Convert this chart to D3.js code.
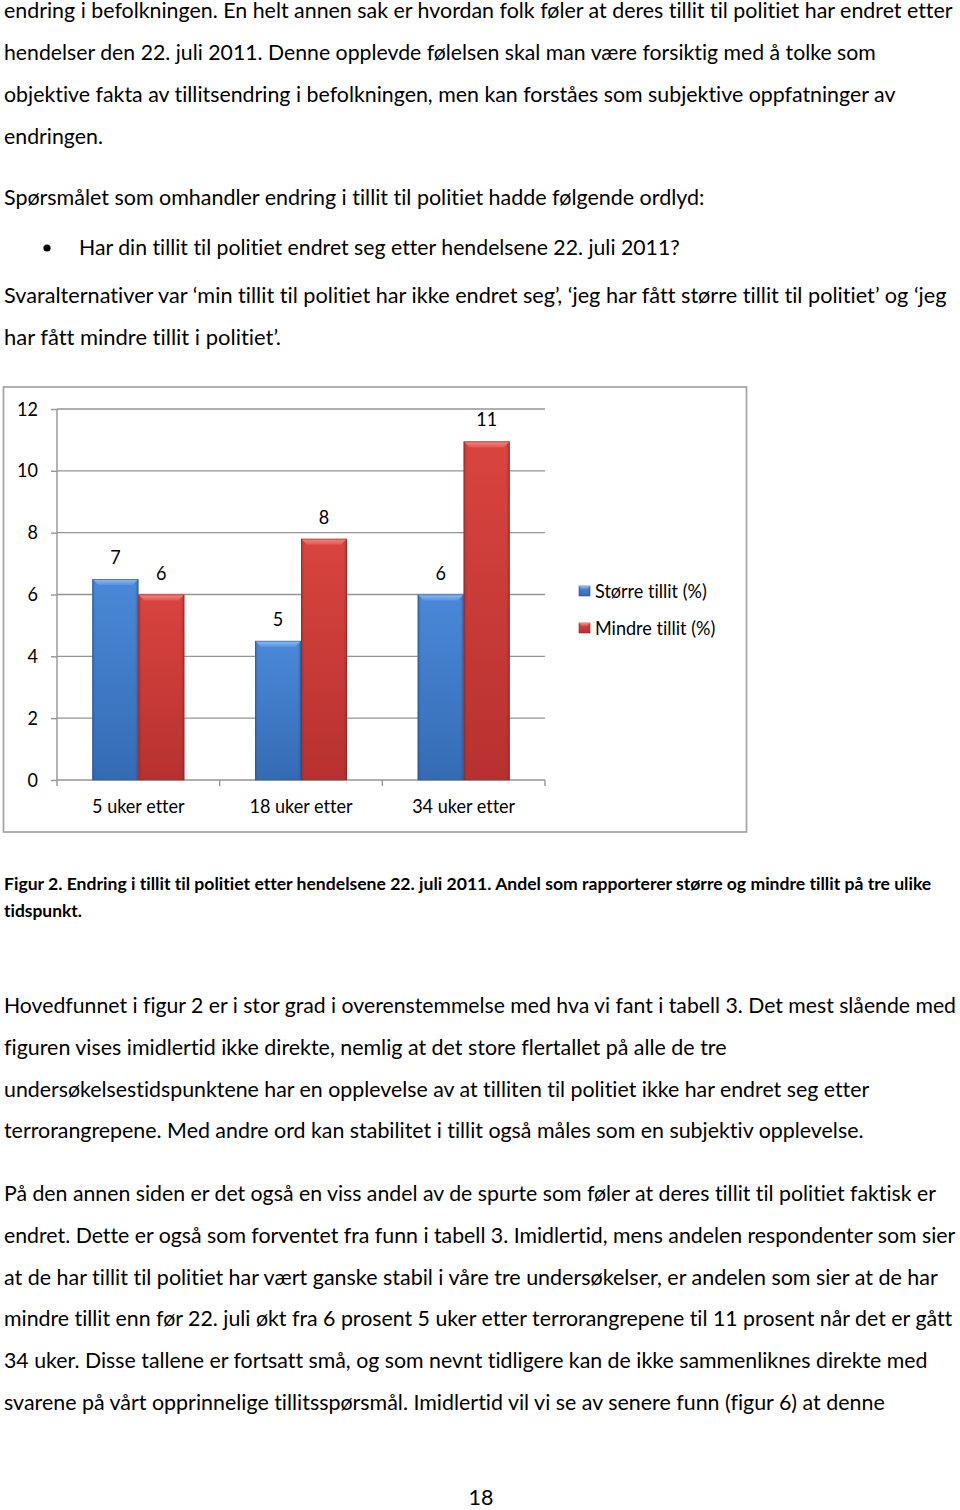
<!DOCTYPE html>
<html><head><meta charset="utf-8">
<script src="https://cdn.jsdelivr.net/npm/d3@7"></script>
<style>html,body{margin:0;padding:0;background:#fff} svg{display:block} text{font-variant-ligatures:none;font-feature-settings:"liga" 0,"clig" 0,"dlig" 0}</style>
</head><body>
<script>
// ---------- DATA ----------
const categories = ["5 uker etter", "18 uker etter", "34 uker etter"];
const seriesNames = ["Større tillit (%)", "Mindre tillit (%)"];
const storreValues = [6.5, 4.5, 6.0];
const mindreValues = [6.0, 7.8, 10.95];
const yTicks = [0, 2, 4, 6, 8, 10, 12];

// ---------- TEXT ----------
const introLines = [
  "endring i befolkningen. En helt annen sak er hvordan folk føler at deres tillit til politiet har endret etter",
  "hendelser den 22. juli 2011. Denne opplevde følelsen skal man være forsiktig med å tolke som",
  "objektive fakta av tillitsendring i befolkningen, men kan forståes som subjektive oppfatninger av",
  "endringen."
];
const questionLine = "Spørsmålet som omhandler endring i tillit til politiet hadde følgende ordlyd:";
const bulletLine = "Har din tillit til politiet endret seg etter hendelsene 22. juli 2011?";
const answerLines = [
  "Svaralternativer var ‘min tillit til politiet har ikke endret seg’, ‘jeg har fått større tillit til politiet’ og ‘jeg",
  "har fått mindre tillit i politiet’."
];
const captionLines = [
  "Figur 2. Endring i tillit til politiet etter hendelsene 22. juli 2011. Andel som rapporterer større og mindre tillit på tre ulike",
  "tidspunkt."
];
const para1Lines = [
  "Hovedfunnet i figur 2 er i stor grad i overenstemmelse med hva vi fant i tabell 3. Det mest slående med",
  "figuren vises imidlertid ikke direkte, nemlig at det store flertallet på alle de tre",
  "undersøkelsestidspunktene har en opplevelse av at tilliten til politiet ikke har endret seg etter",
  "terrorangrepene. Med andre ord kan stabilitet i tillit også måles som en subjektiv opplevelse."
];
const para2Lines = [
  "På den annen siden er det også en viss andel av de spurte som føler at deres tillit til politiet faktisk er",
  "endret. Dette er også som forventet fra funn i tabell 3. Imidlertid, mens andelen respondenter som sier",
  "at de har tillit til politiet har vært ganske stabil i våre tre undersøkelser, er andelen som sier at de har",
  "mindre tillit enn før 22. juli økt fra 6 prosent 5 uker etter terrorangrepene til 11 prosent når det er gått",
  "34 uker. Disse tallene er fortsatt små, og som nevnt tidligere kan de ikke sammenliknes direkte med",
  "svarene på vårt opprinnelige tillitsspørsmål. Imidlertid vil vi se av senere funn (figur 6) at denne"
];
const pageNumber = "18";

// ---------- PAGE ----------
const W = 960, H = 1510;
const FONT = "Lato, 'Open Sans', sans-serif";
const svg = d3.select("body").append("svg").attr("width", W).attr("height", H)
  .style("font-family", FONT);
svg.append("rect").attr("width", W).attr("height", H).attr("fill", "#fff");

const ratios = [];
// text placed in a group that is horizontally compressed to mimic Calibri widths
function label(parent, x, yy, str, size, opts = {}) {
  const g = parent.append("g");
  const t = g.append("text").attr("x", 0).attr("y", 0)
    .attr("font-size", size).attr("font-weight", opts.weight || 400)
    .attr("text-anchor", opts.anchor || "start").attr("fill", "#000").text(str);
  const m = t.node().getComputedTextLength();
  let sx = opts.sx;
  if (opts.target) { sx = opts.target / m; ratios.push(sx); }
  g.attr("transform", `translate(${x},${yy}) scale(${sx || 1},1)`);
  return g;
}
function block(lines, x, y0, step, ends, size, weight) {
  lines.forEach((t, i) => label(svg, x, y0 + i * step, t, size, { weight, target: ends[i] - x }));
}
const BODY = 22;
block(introLines, 4, 17.5, 42, [953, 876, 896, 103], BODY);
block([questionLine], 4, 205, 42, [705], BODY);
svg.append("circle").attr("cx", 47).attr("cy", 248).attr("r", 3.6).attr("fill", "#000");
block([bulletLine], 79, 255, 42, [680], BODY);
block(answerLines, 4, 303, 42, [947, 281], BODY);
block(captionLines, 4, 890, 27, [932, 82], 17.5, 700);
block(para1Lines, 4, 1013, 41.8, [956, 727, 870, 864], BODY);
block(para2Lines, 4, 1201, 41.8, [937, 956, 938, 953, 928, 885], BODY);
const ratio = d3.mean(ratios);
label(svg, 481, 1505, pageNumber, BODY, { anchor: "middle", sx: ratio });

// ---------- CHART ----------
const frame = { x: 3.5, y: 387, w: 743, h: 445 };
svg.append("rect").attr("x", frame.x).attr("y", frame.y).attr("width", frame.w).attr("height", frame.h)
  .attr("fill", "#fff").attr("stroke", "#a9a9a9").attr("stroke-width", 1.8);

const plot = { left: 57, right: 545, top: 409, bottom: 780 };
const x0 = d3.scaleBand().domain(categories).range([plot.left, plot.right]).padding(0);
const x1 = d3.scaleBand().domain(seriesNames).range([0, x0.bandwidth()]).paddingInner(0).paddingOuter(0.77);
const y = d3.scaleLinear().domain([0, 12]).range([plot.bottom, plot.top]);
const GRID = "#959595";
const CH = 18.5;

// gridlines
svg.append("g").selectAll("line").data(yTicks.filter(d => d > 0)).join("line")
  .attr("x1", plot.left).attr("x2", plot.right)
  .attr("y1", d => y(d)).attr("y2", d => y(d))
  .attr("stroke", GRID).attr("stroke-width", 1.4);

// y axis (ticks/domain from d3 axis, labels compressed)
const yAxis = svg.append("g").attr("transform", `translate(${plot.left},0)`)
  .call(d3.axisLeft(y).tickValues(yTicks).tickSize(6).tickFormat(""));
yAxis.select(".domain").attr("stroke", GRID).attr("stroke-width", 1.4)
  .attr("d", `M0,${plot.top}V${plot.bottom + 6}`);
yAxis.selectAll(".tick line").attr("stroke", GRID).attr("stroke-width", 1.4);
const yfmt = d3.format("d");
const yLab = svg.append("g");
yTicks.forEach(v => label(yLab, 38, y(v) + 6.5, yfmt(v), CH, { anchor: "end", sx: ratio }));

// x axis baseline + boundary ticks
const gx = svg.append("g");
gx.append("line").attr("x1", plot.left).attr("x2", plot.right).attr("y1", y(0)).attr("y2", y(0))
  .attr("stroke", GRID).attr("stroke-width", 1.4);
const bounds = categories.map(c => x0(c) + x0.bandwidth());
gx.selectAll("line.b").data(bounds).join("line").attr("class", "b")
  .attr("x1", d => d).attr("x2", d => d).attr("y1", y(0)).attr("y2", y(0) + 6)
  .attr("stroke", GRID).attr("stroke-width", 1.4);
categories.forEach(c => label(gx, x0(c) + x0.bandwidth() / 2, 813, c, CH, { anchor: "middle", sx: ratio }));

// gradients
const defs = svg.append("defs");
const palettes = {
  "Større tillit (%)": { top: "#4a89d8", bot: "#356bb4", edge: "#2a5692", bevTop: "#8dbdf5", bevBot: "#5594df" },
  "Mindre tillit (%)": { top: "#d9443f", bot: "#b73130", edge: "#8f2526", bevTop: "#f28a84", bevBot: "#de5550" }
};
seriesNames.forEach((s, i) => {
  const p = palettes[s];
  const gv = defs.append("linearGradient").attr("id", "gv" + i).attr("x1", 0).attr("y1", 0).attr("x2", 0).attr("y2", 1);
  gv.append("stop").attr("offset", "0%").attr("stop-color", p.top);
  gv.append("stop").attr("offset", "100%").attr("stop-color", p.bot);
  const gh = defs.append("linearGradient").attr("id", "gh" + i).attr("x1", 0).attr("y1", 0).attr("x2", 1).attr("y2", 0);
  gh.append("stop").attr("offset", "0%").attr("stop-color", p.edge).attr("stop-opacity", 0.55);
  gh.append("stop").attr("offset", "7%").attr("stop-color", p.edge).attr("stop-opacity", 0);
  gh.append("stop").attr("offset", "93%").attr("stop-color", p.edge).attr("stop-opacity", 0);
  gh.append("stop").attr("offset", "100%").attr("stop-color", p.edge).attr("stop-opacity", 0.6);
  const gb = defs.append("linearGradient").attr("id", "gb" + i).attr("x1", 0).attr("y1", 0).attr("x2", 0).attr("y2", 1);
  gb.append("stop").attr("offset", "0%").attr("stop-color", p.bevTop);
  gb.append("stop").attr("offset", "100%").attr("stop-color", p.bevBot);
});

// bars
const rows = categories.map((c, i) => ({ cat: c, vals: [storreValues[i], mindreValues[i]] }));
const bevel = 6;
const groups = svg.append("g").selectAll("g").data(rows).join("g")
  .attr("transform", d => `translate(${x0(d.cat)},0)`);
const bars = groups.selectAll("g").data(d => d.vals.map((v, i) => ({ v, i, s: seriesNames[i] }))).join("g");
bars.append("rect").attr("x", d => x1(d.s)).attr("y", d => y(d.v))
  .attr("width", x1.bandwidth()).attr("height", d => y(0) - y(d.v)).attr("fill", d => `url(#gv${d.i})`);
bars.append("rect").attr("x", d => x1(d.s)).attr("y", d => y(d.v))
  .attr("width", x1.bandwidth()).attr("height", d => y(0) - y(d.v)).attr("fill", d => `url(#gh${d.i})`);
bars.append("path").attr("d", d => {
  const a = x1(d.s), b = a + x1.bandwidth(), t = y(d.v);
  return `M${a},${t}H${b}L${b - bevel},${t + bevel}H${a + bevel}Z`;
}).attr("fill", d => `url(#gb${d.i})`);
bars.append("rect").attr("x", d => x1(d.s) + 0.4).attr("y", d => y(d.v) + 0.4)
  .attr("width", x1.bandwidth() - 0.8).attr("height", d => y(0) - y(d.v) - 0.4)
  .attr("fill", "none").attr("stroke", d => palettes[d.s].edge).attr("stroke-opacity", 0.7).attr("stroke-width", 0.8);
const vfmt = d3.format(".0f");
bars.each(function (d) {
  label(d3.select(this), x1(d.s) + x1.bandwidth() / 2, y(d.v) - 15, vfmt(d.v), CH, { anchor: "middle", sx: ratio });
});

// legend
const legend = svg.append("g").selectAll("g").data(seriesNames).join("g")
  .attr("transform", (d, i) => `translate(579,${586 + i * 37})`);
legend.append("rect").attr("width", 11).attr("height", 10).attr("fill", (d, i) => `url(#gv${i})`)
  .attr("stroke", d => palettes[d].edge).attr("stroke-width", 0.6);
legend.append("path").attr("d", "M0,0H11L8,3H3Z").attr("fill", (d, i) => `url(#gb${i})`);
legend.each(function (d) { label(d3.select(this), 16, 12, d, CH, { sx: ratio }); });
</script>
</body></html>
